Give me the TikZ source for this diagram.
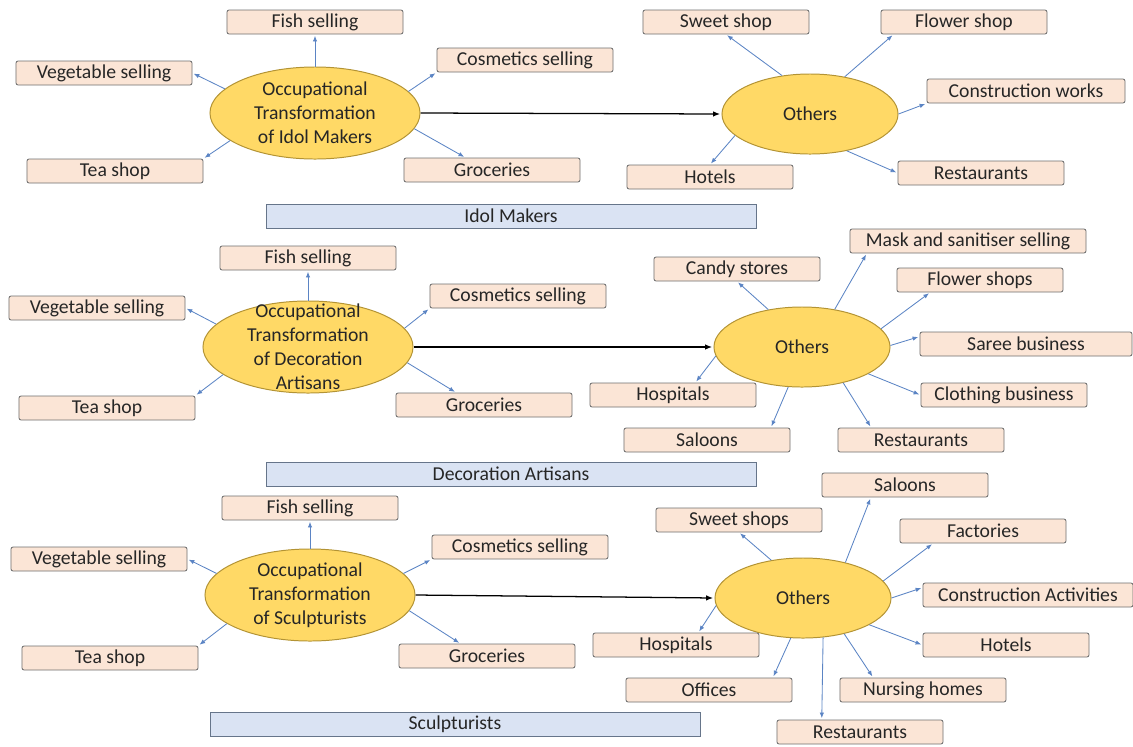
\documentclass[tikz,border=0pt]{standalone}
\usepackage{fontspec}
\setmainfont{Carlito}
\usetikzlibrary{shapes.geometric,arrows.meta}

\definecolor{boxfill}{HTML}{FBE5D6}
\definecolor{boxline}{HTML}{6E6E6E}
\definecolor{hubfill}{HTML}{FFD966}
\definecolor{hubline}{HTML}{B39334}
\definecolor{bandfill}{HTML}{DAE3F3}
\definecolor{bandline}{HTML}{66758A}
\definecolor{leafblue}{HTML}{5B84C4}

\begin{document}
\begin{tikzpicture}[x=0.025cm, y=-0.025cm,
    font=\fontsize{14}{17}\selectfont, text=black!85,
    occbox/.style={draw=boxline, fill=boxfill, rounded corners=1.5pt, line width=0.6pt,
        minimum width=4.4cm, minimum height=0.6cm, inner sep=0pt},
    rbox/.style={occbox, minimum width=4.15cm},
    hub/.style={ellipse, draw=hubline, fill=hubfill, line width=0.7pt, inner sep=0pt,
        minimum width=5.25cm, minimum height=2.3cm},
    other/.style={hub, minimum width=4.4cm, minimum height=2cm},
    hubtext/.style={align=center, inner sep=0pt},
    banner/.style={draw=bandline, fill=bandfill, line width=0.6pt, inner sep=0pt,
        minimum width=12.25cm, minimum height=0.6cm},
    leaf/.style={draw=leafblue, line width=0.6pt, shorten >=1pt,
        -{Latex[length=4pt,width=3.2pt]}},
    link/.style={draw=black, line width=0.9pt, shorten >=1pt,
        -{Latex[length=5pt,width=4pt]}}]
    \useasboundingbox (0,0) rectangle (1133,746);

    % Idol makers
    \node[hub] (occA) at (315,113) {};
    \node[hubtext] (occAtxt) at (occA) {Occupational\\Transformation\\of Idol Makers};
    \node[occbox] (fishA) at (315,22) {Fish selling};
    \node[occbox] (vegA) at (104,73) {Vegetable selling};
    \node[occbox] (teaA) at (115,171) {Tea shop};
    \node[occbox] (cosA) at (525,60) {Cosmetics selling};
    \node[occbox] (grocA) at (492,170) {Groceries};

    \node[other] (othA) at (810,114) {Others};
    \node[rbox] (sweetA) at (726,22) {Sweet shop};
    \node[rbox] (flowerA) at (964,22) {Flower shop};
    \node[rbox, minimum width=4.95cm] (constrA) at (1026,91) {Construction works};
    \node[rbox] (restA) at (981,173) {Restaurants};
    \node[rbox] (hotelA) at (710,177) {Hotels};

    \node[banner] (bandA) at (511,216) {Idol Makers};

    \draw[leaf] (occA.north) -- (fishA.south);
    \draw[leaf] (occA.165) -- (vegA.east);
    \draw[leaf] (occA.198) -- (teaA.north east);
    \draw[leaf] (occA.13) -- (cosA.south west);
    \draw[leaf] (occA.-9) -- (grocA.155);
    \draw[link] (occA.east) -- (othA.west);
    \draw[leaf] (othA.126) -- (sweetA.south);
    \draw[leaf] (othA.47) -- (flowerA.190);
    \draw[leaf] (othA.0) -- (constrA.south west);
    \draw[leaf] (othA.315) -- (restA.west);
    \draw[leaf] (othA.196) -- (hotelA.north);

    % Decoration artisans
    \node[hub] (occB) at (308,347) {};
    \node[hubtext] (occBtxt) at (occB) {Occupational\\Transformation\\of Decoration\\Artisans};
    \node[occbox] (fishB) at (308,258) {Fish selling};
    \node[occbox] (vegB) at (97,308) {Vegetable selling};
    \node[occbox] (teaB) at (107,408) {Tea shop};
    \node[occbox] (cosB) at (518,296) {Cosmetics selling};
    \node[occbox] (grocB) at (484,405) {Groceries};

    \node[other] (othB) at (802,347) {Others};
    \node[rbox] (candyB) at (737,269) {Candy stores};
    \node[rbox, minimum width=5.9cm] (maskB) at (968,241) {Mask and sanitiser selling};
    \node[rbox] (flowerB) at (980,280) {Flower shops};
    \node[rbox, minimum width=5.3cm] (sareeB) at (1026,344) {Saree business};
    \node[rbox] (clothB) at (1004,395) {Clothing business};
    \node[rbox] (restB) at (921,440) {Restaurants};
    \node[rbox] (saloonB) at (707,440) {Saloons};
    \node[rbox] (hospB) at (673,395) {Hospitals};

    \node[banner] (bandB) at (511,474) {Decoration Artisans};

    \draw[leaf] (occB.north) -- (fishB.south);
    \draw[leaf] (occB.166) -- (vegB.east);
    \draw[leaf] (occB.198) -- (teaB.north east);
    \draw[leaf] (occB.11) -- (cosB.south west);
    \draw[leaf] (occB.-9) -- (grocB.156);
    \draw[link] (occB.east) -- (othB.west);
    \draw[leaf] (othB.132) -- (candyB.south);
    \draw[leaf] (othB.49) -- (maskB.187);
    \draw[leaf] (othB.13) -- (flowerB.194);
    \draw[leaf] (othB.1) -- (sareeB.176);
    \draw[leaf] (othB.338) -- (clothB.west);
    \draw[leaf] (othB.319) -- (restB.166);
    \draw[leaf] (othB.251) -- (saloonB.11);
    \draw[leaf] (othB.186) -- (hospB.29);

    % Sculpturists
    \node[hub] (occC) at (310,595) {};
    \node[hubtext] (occCtxt) at (occC) {Occupational\\Transformation\\of Sculpturists};
    \node[occbox] (fishC) at (310,508) {Fish selling};
    \node[occbox] (vegC) at (99,559) {Vegetable selling};
    \node[occbox] (teaC) at (110,658) {Tea shop};
    \node[occbox] (cosC) at (520,547) {Cosmetics selling};
    \node[occbox] (grocC) at (487,656) {Groceries};

    \node[other] (othC) at (803,598) {Others};
    \node[rbox] (saloonC) at (905,485) {Saloons};
    \node[rbox] (sweetC) at (739,520) {Sweet shops};
    \node[rbox] (factC) at (983,531) {Factories};
    \node[rbox, minimum width=5.25cm] (constrC) at (1028,595) {Construction Activities};
    \node[rbox] (hotelC) at (1006,645) {Hotels};
    \node[rbox] (nursC) at (923,690) {Nursing homes};
    \node[rbox] (restC) at (860,732) {Restaurants};
    \node[rbox] (offC) at (709,690) {Offices};
    \node[rbox] (hospC) at (676,645) {Hospitals};

    \node[banner] (bandC) at (455,724) {Sculpturists};

    \draw[leaf] (occC.north) -- (fishC.south);
    \draw[leaf] (occC.167) -- (vegC.east);
    \draw[leaf] (occC.199) -- (teaC.north east);
    \draw[leaf] (occC.13) -- (cosC.south west);
    \draw[leaf] (occC.-9) -- (grocC.155);
    \draw[link] (occC.east) -- (othC.west);
    \draw[leaf] (othC.40) -- (saloonC.200);
    \draw[leaf] (othC.130) -- (sweetC.south);
    \draw[leaf] (othC.12) -- (factC.194);
    \draw[leaf] (othC.0) -- (constrC.176);
    \draw[leaf] (othC.338) -- (hotelC.west);
    \draw[leaf] (othC.319) -- (nursC.166);
    \draw[leaf] (othC.297) -- (restC.162);
    \draw[leaf] (othC.253) -- (offC.11);
    \draw[leaf] (othC.185) -- (hospC.29);
\end{tikzpicture}
\end{document}
